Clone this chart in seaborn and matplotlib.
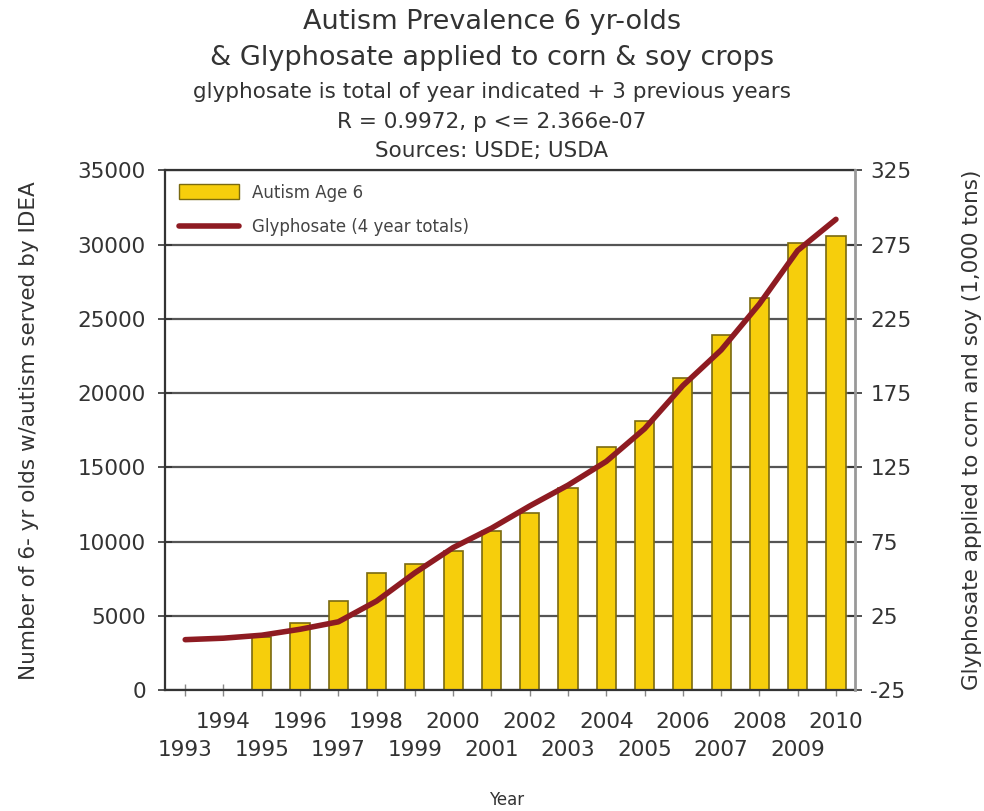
import numpy as np
import pandas as pd
import matplotlib
matplotlib.use('Agg')
import matplotlib.pyplot as plt
import seaborn as sns
from matplotlib.patches import Patch
from matplotlib.lines import Line2D

# Data
years = list(range(1993, 2011))
autism_years = list(range(1995, 2011))
autism_age6 = [3600, 4500, 6000, 7900, 8500, 9400, 10700, 11900, 13600,
               16400, 18100, 21000, 23900, 26400, 30100, 30600]
glyphosate_4yr = [9, 10, 12, 16, 21, 35, 54, 71, 84, 99, 113, 129, 151,
                  180, 204, 235, 271, 292]

left_ticks = list(range(0, 35001, 5000))
right_ticks = list(range(-25, 326, 50))

title_lines = ['Autism Prevalence 6 yr-olds',
               '& Glyphosate applied to corn & soy crops']
sub_lines = ['glyphosate is total of year indicated + 3 previous years',
             'R = 0.9972, p <= 2.366e-07',
             'Sources: USDE; USDA']

sns.set_theme(style='white')
plt.rcParams['font.family'] = ['DejaVu Sans']

bar_df = pd.DataFrame({'year': autism_years, 'count': autism_age6})
line_df = pd.DataFrame({'year': years, 'glyph': glyphosate_4yr})

fig, ax = plt.subplots(figsize=(9.84, 8.11), dpi=100)
fig.subplots_adjust(left=0.168, right=0.869, top=0.790, bottom=0.149)

# gridlines
for t in left_ticks:
    ax.axhline(t, color='#555555', lw=1.6, zorder=0)

sns.barplot(data=bar_df, x='year', y='count', native_scale=True, width=0.5,
            color='#F6CE0C', edgecolor='#7A6A10', linewidth=1.2,
            saturation=1, ax=ax, zorder=2)

ax.set_xlim(1992.48, 2010.5)
ax.set_ylim(0, 35000)
ax.set_yticks(left_ticks)
ax.set_yticklabels([str(t) for t in left_ticks], fontsize=15.5, color='#333333')

# even years on the upper row, odd years on the lower row
even_years = [y for y in years if y % 2 == 0]
odd_years = [y for y in years if y % 2 == 1]
ax.set_xticks(even_years)
ax.set_xticklabels([str(y) for y in even_years], fontsize=15.5, color='#333333')
ax.set_xticks(odd_years, minor=True)
ax.set_xticklabels([str(y) for y in odd_years], minor=True, fontsize=15.5,
                   color='#333333')
ax.tick_params(axis='y', direction='inout', length=10, width=1.2,
               color='#333333', left=True, pad=9)
ax.tick_params(axis='x', which='major', direction='inout', length=8, width=1,
               color='#888888', bottom=True, pad=12)
ax.tick_params(axis='x', which='minor', direction='inout', length=8, width=1,
               color='#888888', bottom=True, pad=32)
ax.set_xlabel('')
fig.text(0.515, 1 - 800 / 811, 'Year', ha='center', va='center', fontsize=12,
         color='#333333')
ax.set_ylabel('Number of 6- yr olds w/autism served by IDEA', fontsize=15.5,
              color='#333333', labelpad=28)
for s in ['left', 'bottom', 'top']:
    ax.spines[s].set_color('#333333')
    ax.spines[s].set_linewidth(1.6)
ax.spines['right'].set_visible(False)

ax2 = ax.twinx()
sns.lineplot(data=line_df, x='year', y='glyph', ax=ax2, color='#8E1B22',
             lw=4, zorder=3)
ax2.set_ylim(-25, 325)
ax2.set_yticks(right_ticks)
ax2.set_yticklabels([str(t) for t in right_ticks], fontsize=15.5, color='#333333')
ax2.tick_params(axis='y', direction='inout', length=10, width=1.2,
                color='#333333', right=True, pad=6)
ax2.set_ylabel('Glyphosate applied to corn and soy (1,000 tons)', fontsize=15.5,
               color='#333333', labelpad=36)
for s in ['left', 'bottom', 'top']:
    ax2.spines[s].set_visible(False)
ax2.spines['right'].set_color('#999999')
ax2.spines['right'].set_linewidth(2)

handles = [Patch(facecolor='#F6CE0C', edgecolor='#7A6A10', label='Autism Age 6'),
           Line2D([0], [0], color='#8E1B22', lw=4, label='Glyphosate (4 year totals)')]
ax2.legend(handles=handles, loc='upper left', frameon=False, fontsize=12,
           handlelength=3.6, handleheight=1.0, labelspacing=1.0,
           borderaxespad=0.5, borderpad=0.3, labelcolor='#444444')

H = 811
for txt, yc in zip(title_lines, [22, 58]):
    fig.text(0.5, 1 - yc / H, txt, ha='center', va='center', fontsize=19.5,
             color='#333333')
for txt, yc in zip(sub_lines, [92, 122, 151]):
    fig.text(0.5, 1 - yc / H, txt, ha='center', va='center', fontsize=15.5,
             color='#333333')

fig.savefig('out.png', dpi=100)
